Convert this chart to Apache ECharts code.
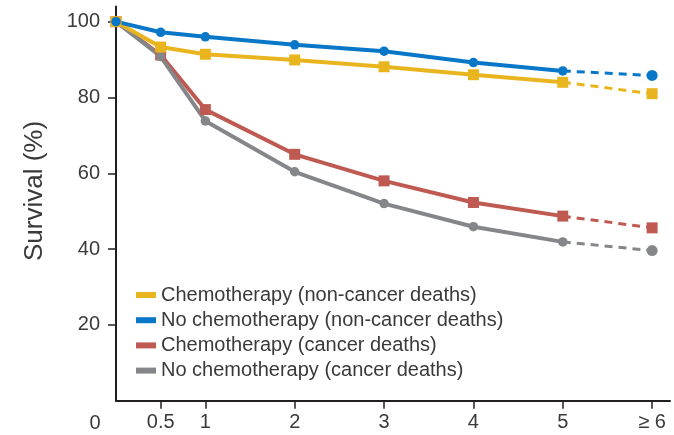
<!DOCTYPE html>
<html>
<head>
<meta charset="utf-8">
<script src="https://cdn.jsdelivr.net/npm/echarts@6/dist/echarts.min.js"></script>
<style>
html,body{margin:0;padding:0;background:#fff;}
#main{width:674px;height:435px;}
</style>
</head>
<body>
<div id="main"></div>
<script>
// ---- data ----
const years = [0, 0.5, 1, 2, 3, 4, 5];
const lastYear = 6;
const chemoNonCancer   = [100, 93.3, 91.4, 89.9, 88.1, 86.0, 84.0];
const noChemoNonCancer = [100, 97.2, 96.0, 93.9, 92.2, 89.2, 87.0];
const chemoCancer      = [100, 91.2, 76.8, 65.0, 58.0, 52.3, 48.7];
const noChemoCancer    = [100, 90.8, 73.8, 60.4, 52.0, 45.9, 41.9];
const chemoNonCancerLast   = 81.0;
const noChemoNonCancerLast = 85.8;
const chemoCancerLast      = 45.6;
const noChemoCancerLast    = 39.6;
const xTickValues = [0.5, 1, 2, 3, 4, 5, 6];
const xTickLabels = ['0.5', '1', '2', '3', '4', '5', '\u2265 6'];
const yTickValues = [20, 40, 60, 80, 100];
const seriesNames = [
  'Chemotherapy (non-cancer deaths)',
  'No chemotherapy (non-cancer deaths)',
  'Chemotherapy (cancer deaths)',
  'No chemotherapy (cancer deaths)'
];

const FONT = "'Liberation Sans', Arial, sans-serif";
const TXT = '#3a3a3a';
const AX = '#231f20';

const defs = [
  {name: seriesNames[2], vals: chemoCancer, last: chemoCancerLast, color: '#bf5a52', symbol: 'rect', size: 11, endSize: 11},
  {name: seriesNames[3], vals: noChemoCancer, last: noChemoCancerLast, color: '#858689', symbol: 'circle', size: 9.5, endSize: 11},
  {name: seriesNames[0], vals: chemoNonCancer, last: chemoNonCancerLast, color: '#e9b51e', symbol: 'rect', size: 11, endSize: 11},
  {name: seriesNames[1], vals: noChemoNonCancer, last: noChemoNonCancerLast, color: '#0877c8', symbol: 'circle', size: 9.5, endSize: 11}
];

const series = [];
defs.forEach(d => {
  series.push({
    name: d.name + ' ext',
    type: 'line',
    data: [{value: [years[years.length - 1], d.vals[d.vals.length - 1]], symbol: 'none'}, [lastYear, d.last]],
    symbol: d.symbol,
    symbolSize: d.endSize,
    lineStyle: {color: d.color, width: 3, type: [8, 6]},
    itemStyle: {color: d.color},
    silent: true,
    animation: false
  });
  series.push({
    name: d.name,
    type: 'line',
    data: years.map((x, i) => [x, d.vals[i]]),
    symbol: d.symbol,
    symbolSize: d.size,
    showAllSymbol: true,
    lineStyle: {color: d.color, width: 4},
    itemStyle: {color: d.color},
    animation: false
  });
});

const chart = echarts.init(document.getElementById('main'), null, {renderer: 'canvas'});
chart.setOption({
  backgroundColor: '#ffffff',
  animation: false,
  grid: {left: 116, right: 4, top: 6.5, bottom: 34.3, containLabel: false},
  legend: {
    data: seriesNames,
    orient: 'vertical',
    left: 136,
    top: 285,
    padding: 0,
    icon: 'rect',
    itemWidth: 20,
    itemHeight: 6,
    itemGap: 5.2,
    textStyle: {fontFamily: FONT, fontSize: 20, color: TXT, lineHeight: 20},
    selectedMode: false
  },
  xAxis: {
    type: 'value',
    min: 0,
    max: 6.2,
    interval: 0.5,
    splitLine: {show: false},
    axisLine: {show: true, lineStyle: {color: AX, width: 2}},
    axisTick: {show: true, length: 8, lineStyle: {color: AX, width: 1.5}, customValues: xTickValues},
    axisLabel: {
      customValues: xTickValues,
      fontFamily: FONT, fontSize: 20, color: TXT, margin: 12,
      formatter: v => { const i = xTickValues.indexOf(v); return i >= 0 ? xTickLabels[i] : ''; }
    }
  },
  yAxis: {
    type: 'value',
    min: 0,
    max: 104,
    interval: 20,
    splitLine: {show: false},
    axisLine: {show: true, lineStyle: {color: AX, width: 2}},
    axisTick: {show: true, length: 8, lineStyle: {color: AX, width: 1.5}, customValues: yTickValues},
    axisLabel: {
      customValues: yTickValues,
      fontFamily: FONT, fontSize: 20, color: TXT, margin: 16,
      formatter: v => yTickValues.indexOf(v) >= 0 ? String(v) : ''
    }
  },
  graphic: [
    {type: 'text', x: 95, y: 423, style: {text: '0', font: '20px ' + FONT, fill: TXT, textAlign: 'center', textVerticalAlign: 'middle'}},
    {type: 'text', x: 35, y: 191, rotation: Math.PI / 2, style: {text: 'Survival (%)', font: '26px ' + FONT, fill: TXT, textAlign: 'center', textVerticalAlign: 'middle'}}
  ],
  series: series
});
</script>
</body>
</html>
